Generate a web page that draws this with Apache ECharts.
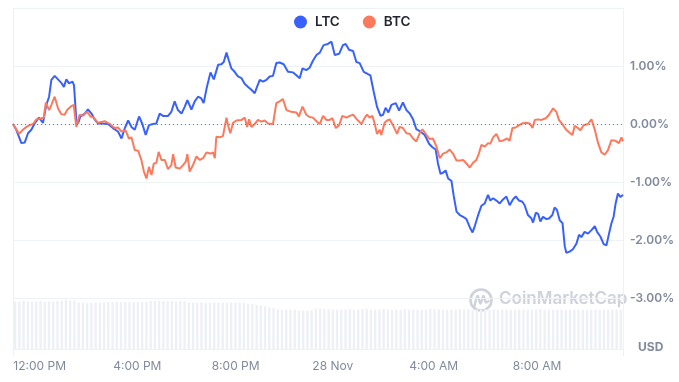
<!DOCTYPE html>
<html><head><meta charset="utf-8">
<script src="https://cdn.jsdelivr.net/npm/echarts@6/dist/echarts.min.js"></script>
<style>html,body{margin:0;padding:0;background:#fff}#c{width:679px;height:382px}</style>
</head><body><div id="c"></div>
<script>
// hours since the first sample (about 11:00 AM, 27 Nov)
const ltcTime = [0,0.13,0.33,0.46,0.59,0.72,0.85,1.02,1.18,1.31,1.42,1.51,1.64,1.77,1.90,2.00,2.10,2.20,2.34,2.40,2.49,2.56,2.65,2.82,2.95,3.09,3.21,3.34,3.54,3.74,3.93,4.13,4.27,4.40,4.53,4.66,4.79,4.96,5.09,5.22,5.35,5.51,5.64,5.77,
5.90,6.10,6.23,6.36,6.49,6.63,6.76,6.86,7.02,7.15,7.28,7.41,7.50,7.63,7.77,7.90,8.07,8.20,8.29,8.40,8.49,8.59,8.72,8.85,8.99,9.12,9.25,9.38,9.51,9.60,9.71,9.84,9.97,10.10,10.23,10.36,10.49,10.65,10.82,11.02,11.15,11.28,11.39,11.54,11.67,
11.80,11.94,12.07,12.22,12.39,12.53,12.66,12.83,12.98,13.09,13.22,13.38,13.51,13.64,13.80,13.93,14.06,14.19,14.32,14.46,14.56,14.66,14.77,14.89,15.06,15.19,15.34,15.48,15.61,15.74,15.87,16.03,16.20,16.37,16.50,16.63,16.72,16.82,16.92,17.02,17.12,17.25,17.34,17.45,17.58,
17.71,17.84,17.97,18.08,18.17,18.30,18.43,18.56,18.69,18.78,18.89,19.02,19.15,19.28,19.41,19.54,19.67,19.78,19.91,20.04,20.13,20.26,20.40,20.46,20.57,20.66,20.75,20.85,20.99,21.09,21.22,21.31,21.40,21.51,21.62,21.71,21.77,21.90,22.03,22.17,22.27,22.36,22.49,22.62,22.76,22.89,22.98,23.11,23.24,23.35,23.45,23.54,23.63,23.71,23.80,23.90,24.00];
const ltcPct = [0,-0.10,-0.33,-0.32,-0.16,-0.10,0.01,0.11,0.02,0.33,0.47,0.76,0.83,0.77,0.71,0.64,0.77,0.70,0.73,0.67,0.07,0.01,0.13,0.18,0.25,0.18,0.08,0.01,0.01,0,-0.07,-0.13,-0.25,-0.07,0.06,-0.05,-0.10,0.13,0,-0.19,-0.02,0,0.01,0.18,
0.14,0.14,0.21,0.39,0.24,0.18,0.30,0.41,0.25,0.39,0.47,0.44,0.36,0.64,0.89,0.77,1.02,1.03,1.07,1.23,1.10,0.96,0.90,0.82,0.79,0.69,0.64,0.59,0.53,0.64,0.76,0.73,0.76,0.82,0.83,1.05,1.06,1.03,0.90,0.89,0.84,0.79,0.96,0.93,0.97,
1.09,1.19,1.23,1.36,1.38,1.42,1.19,1.21,1.36,1.38,1.28,1.26,1.07,1.05,0.90,0.87,0.84,0.56,0.30,0.14,0.16,0.28,0.20,0.33,0.36,0.23,0.37,0.24,0.18,0.08,-0.09,-0.13,-0.19,-0.34,-0.40,-0.44,-0.68,-0.86,-0.84,-0.80,-0.94,-0.98,-1.24,-1.51,-1.57,
-1.60,-1.64,-1.78,-1.87,-1.76,-1.57,-1.41,-1.37,-1.22,-1.32,-1.28,-1.32,-1.37,-1.30,-1.25,-1.40,-1.30,-1.25,-1.32,-1.34,-1.40,-1.57,-1.63,-1.70,-1.53,-1.55,-1.68,-1.60,-1.64,-1.63,-1.57,-1.44,-1.48,-1.66,-1.71,-2.11,-2.22,-2.20,-2.16,-2.06,-1.91,-1.95,-1.86,-1.89,-1.83,-1.76,-1.86,-1.94,-2.07,-2.09,-1.89,-1.72,-1.60,-1.37,-1.20,-1.26,-1.22];

const btcTime = [0,0.24,0.39,0.53,0.66,0.79,0.92,1.12,1.21,1.29,1.42,1.51,1.64,1.77,1.90,2.03,2.13,2.20,2.30,2.39,2.49,2.62,2.75,2.91,3.05,3.18,3.34,3.61,3.81,4.00,4.13,4.27,4.43,4.56,4.66,4.79,4.92,5.05,5.15,5.25,5.35,5.45,5.54,5.64,5.73,5.84,
5.97,6.10,6.23,6.30,6.40,6.56,6.69,6.80,6.86,6.95,7.08,7.22,7.35,7.48,7.61,7.77,7.87,7.94,8.00,8.13,8.26,8.40,8.46,8.55,8.66,8.79,8.99,9.12,9.21,9.29,9.38,9.51,9.64,9.77,9.90,10.03,10.23,10.36,10.49,10.62,10.76,10.95,11.15,11.25,11.39,11.54,11.67,
11.80,11.96,12.07,12.20,12.33,12.46,12.57,12.70,12.83,12.96,13.12,13.25,13.38,13.53,13.71,13.84,13.93,14.03,14.14,14.23,14.32,14.43,14.49,14.62,14.72,14.82,14.95,15.11,15.21,15.34,15.48,15.61,15.74,15.87,16.00,16.11,16.27,16.39,16.52,16.66,16.79,16.92,17.05,17.18,17.31,17.45,17.60,
17.71,17.84,17.97,18.10,18.23,18.33,18.43,18.56,18.69,18.78,18.89,19.02,19.15,19.31,19.44,19.54,19.65,19.78,19.91,20.04,20.17,20.33,20.44,20.53,20.66,20.79,20.96,21.09,21.25,21.38,21.48,21.64,21.77,21.90,22.01,22.10,22.23,22.32,22.45,22.62,22.76,22.89,23.02,23.15,23.28,23.41,23.54,23.71,23.84,23.94,24.00];
const btcPct = [0,-0.17,-0.10,-0.05,-0.02,0,0.08,0.10,0.11,0.37,0.24,0.33,0.47,0.27,0.17,0.16,0.24,0.21,0.31,0.33,-0.05,0.16,0.14,0.21,0.13,0.11,0.02,0.05,0,-0.07,-0.06,-0.13,-0.11,-0.25,-0.23,-0.45,-0.46,-0.62,-0.82,-0.94,-0.74,-0.88,-0.68,-0.67,-0.48,-0.62,
-0.62,-0.78,-0.71,-0.52,-0.75,-0.77,-0.71,-0.65,-0.52,-0.82,-0.71,-0.56,-0.62,-0.59,-0.49,-0.51,-0.49,-0.59,-0.22,-0.23,-0.21,0.11,-0.02,-0.16,0.02,0.06,0.07,0.11,-0.05,0.08,-0.05,0,0.07,0.04,0.06,0.01,0,0.36,0.39,0.43,0.24,0.21,0.20,0.13,0.30,0.16,0.12,
0.11,0.04,0,0.14,0.07,0.07,0.10,-0.07,-0.02,0.14,0.11,0.14,0.16,0.08,0,0.11,0.16,0.11,0.14,0.01,-0.17,-0.10,-0.19,0.02,0.06,0.08,-0.02,-0.17,-0.05,-0.07,-0.16,-0.17,-0.25,-0.30,-0.16,-0.09,-0.19,-0.26,-0.25,-0.39,-0.59,-0.51,-0.49,-0.44,-0.51,-0.63,-0.63,
-0.62,-0.68,-0.75,-0.67,-0.62,-0.51,-0.36,-0.39,-0.33,-0.34,-0.23,-0.17,-0.30,-0.28,-0.25,-0.29,-0.07,-0.06,-0.02,0.01,0.02,0.01,-0.07,0.07,0.08,0.07,0.10,0.16,0.27,0.21,0.07,-0.02,-0.10,-0.15,-0.19,-0.03,-0.07,-0.11,-0.02,0,0.08,-0.10,-0.33,-0.49,-0.53,-0.45,-0.28,-0.29,-0.33,-0.23,-0.30];

// relative trading volume, one bucket per 10 minutes
const volume = [89,89,90,89,89,89,90,89,89,89,90, 91,92,91,91, 87,87,86,87,87,87, 88,88,88,89,88,88,88,88,88,89,88,
90,90,91,90,90,90,89,90,90, 87,87,87,87,86,87,87,87,87,87,87,87,87,86, 85,84,83,82, 80,78,77, 74,74,74,74,74, 72,72,72,73, 76,76,75,75,74,74,
74,74,75,74,74,75,75,74,74,74,75,74,74,74,74,75,74,74,74,74,74,75,75,74,74,74,74,74,75,74,74,74,74,74,75,74,74,74,74,74,73,74,74,74,74,74,74,75,74,74,74,74,74,74,74,74,74,74,74,74,74,73,74,74,74,74,74];

// positions of the time labels on the same hour scale
const tickHours = [1.05, 4.89, 8.76, 12.58, 16.55, 20.62];
const tickLabels = ['12:00 PM','4:00 PM','8:00 PM','28 Nov','4:00 AM','8:00 AM'];
const seriesNames = ['LTC','BTC'];

const FONT = 'Inter, "Noto Sans", sans-serif';
const GRID = '#eff2f5';
const AXIS_TXT = '#808a9d';
const chart = echarts.init(document.getElementById('c'), null, {renderer:'canvas'});
const pairs = (t, v) => t.map((x, i) => [x, v[i]]);

chart.setOption({
  animation: false,
  textStyle: {fontFamily: FONT},
  legend: {
    data: seriesNames, left: 294, top: 15, padding: 0, icon: 'circle', itemWidth: 13, itemHeight: 13, itemGap: 23,
    textStyle: {fontFamily: FONT, fontSize: 13.5, fontWeight: 600, color: '#222531', padding: [0,0,0,3]}
  },
  grid: [
    {left: 13, right: 56, top: 8, bottom: 26},
    {left: 13, right: 56, top: 8, bottom: 33}
  ],
  xAxis: [
    {type: 'value', gridIndex: 0, min: 0, max: 24, interval: 24,
     axisLine: {show: false}, axisTick: {show: false},
     splitLine: {show: true, lineStyle: {color: GRID, width: 1}},
     axisLabel: {customValues: tickHours, margin: 4, color: AXIS_TXT, fontSize: 12, fontFamily: FONT,
       formatter: v => { const k = tickHours.indexOf(v); return k >= 0 ? tickLabels[k] : ''; }}},
    {type: 'category', gridIndex: 1, data: volume.map((_, i) => i), boundaryGap: true,
     axisLine: {show: true, lineStyle: {color: GRID, width: 1}}, axisTick: {show: false}, axisLabel: {show: false}, splitLine: {show: false}}
  ],
  yAxis: [
    {type: 'value', gridIndex: 0, position: 'right', min: -4, max: 2, interval: 1,
     axisLine: {show: false}, axisTick: {show: false},
     splitLine: {show: true, showMinLine: false, lineStyle: {color: GRID, width: 1}},
     axisLabel: {margin: 7, color: AXIS_TXT, fontSize: 12, fontWeight: 600, fontFamily: FONT,
       formatter: v => (v >= 2 || v <= -4) ? '' : v.toFixed(2) + '%'}},
    {type: 'value', gridIndex: 1, min: 0, max: 640, show: false}
  ],
  graphic: [
    {type: 'circle', z: 0, shape: {cx: 481, cy: 300, r: 10.5}, style: {fill: 'none', stroke: '#cdd2db', lineWidth: 2.6}},
    {type: 'polyline', z: 0, shape: {points: [[474.5,306],[477.5,296],[480.5,303.5],[483.5,296],[486,302.5],[488.5,301]], smooth: 0.3},
     style: {fill: 'none', stroke: '#cdd2db', lineWidth: 2.4, lineJoin: 'round', lineCap: 'round'}},
    {type: 'text', z: 0, left: 499, top: 290, style: {text: 'CoinMarketCap', fill: '#cdd2db', font: '600 17px Inter, "Noto Sans", sans-serif'}},
    {type: 'text', left: 638, top: 341, style: {text: 'USD', fill: AXIS_TXT, font: '700 12px Inter, "Noto Sans", sans-serif'}}
  ],
  series: [
    {name: 'Volume', type: 'bar', xAxisIndex: 1, yAxisIndex: 1, data: volume, barWidth: '55%', silent: true, z: 1,
     itemStyle: {color: '#edf0f4'}},
    {name: 'LTC', type: 'line', xAxisIndex: 0, yAxisIndex: 0, data: pairs(ltcTime, ltcPct), showSymbol: false, z: 3,
     lineStyle: {color: '#3861fb', width: 2}, itemStyle: {color: '#3861fb'},
     markLine: {silent: true, symbol: 'none', label: {show: false}, lineStyle: {color: '#6f7889', type: [1, 3], width: 1},
       data: [{yAxis: 0}]}},
    {name: 'BTC', type: 'line', xAxisIndex: 0, yAxisIndex: 0, data: pairs(btcTime, btcPct), showSymbol: false, z: 4,
     lineStyle: {color: '#fb7a5e', width: 2}, itemStyle: {color: '#fb7a5e'}}
  ]
});
</script></body></html>
